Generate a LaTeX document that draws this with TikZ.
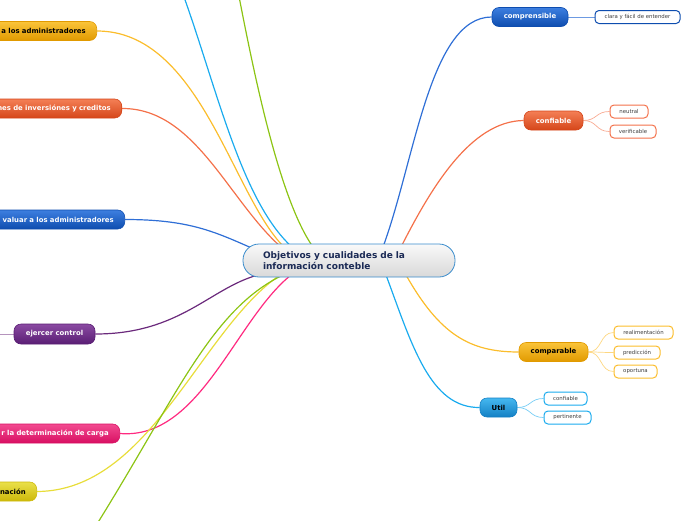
\documentclass[tikz,border=0pt]{standalone}
\usepackage{fontspec}
\setmainfont{DejaVu Sans}
\usetikzlibrary{backgrounds}
\definecolor{cenB}{HTML}{3A8CCC}
\definecolor{cenT}{HTML}{1B2A55}
\definecolor{bluT}{HTML}{3D7FE0}\definecolor{bluB}{HTML}{0E4DAF}\definecolor{bluL}{HTML}{2F6FD6}
\definecolor{oraT}{HTML}{F47F55}\definecolor{oraB}{HTML}{D5461A}\definecolor{oraL}{HTML}{F4714A}
\definecolor{golT}{HTML}{FAC43A}\definecolor{golB}{HTML}{E19A00}\definecolor{golL}{HTML}{FBBD2C}
\definecolor{cyaT}{HTML}{45B8F0}\definecolor{cyaB}{HTML}{1480C4}\definecolor{cyaL}{HTML}{1AABEE}
\definecolor{purT}{HTML}{8A4AA2}\definecolor{purB}{HTML}{5A1E74}\definecolor{purL}{HTML}{6B2A7C}
\definecolor{pinT}{HTML}{F24A90}\definecolor{pinB}{HTML}{D80F62}\definecolor{pinL}{HTML}{FF2A80}
\definecolor{yelT}{HTML}{EAE04A}\definecolor{yelB}{HTML}{CDB90A}\definecolor{yelL}{HTML}{E8DD3A}
\definecolor{grnL}{HTML}{8CC414}
\tikzset{
  mainbox/.style={rounded corners=7pt, minimum height=19pt, inner xsep=6pt, inner ysep=0pt,
    font=\bfseries\fontsize{6.9}{8}\selectfont, line width=0.6pt},
  leftbox/.style={mainbox, anchor=east, text width=200pt, align=right, inner xsep=11pt},
  subbox/.style={draw, fill=white, rounded corners=4pt, line width=1pt, minimum height=13pt,
    inner xsep=5pt, inner ysep=0pt, font=\fontsize{5.4}{6}\selectfont, text=black!75},
  branch/.style={line width=1.2pt},
  twig/.style={line width=0.7pt}
}
\begin{document}
\begin{tikzpicture}[x=1pt,y=-1pt]
\useasboundingbox (0,0) rectangle (696,520);
\clip (0,0) rectangle (696,520);
% attachment coordinates on the central node
\coordinate (aY) at (284,247);
\coordinate (aO) at (281,247);
\coordinate (aB) at (292,247);
\coordinate (aG) at (313,247);
\coordinate (aL) at (254,249);
\coordinate (aP) at (258,275);
\coordinate (aYb) at (280,275);
\coordinate (aGb) at (283,275);
\coordinate (aK) at (291,275);
\coordinate (aR1) at (383,247);
\coordinate (aR2) at (401,247);
\coordinate (aR3) at (386,275);
\coordinate (aR4) at (406,275);
\coordinate (offB) at (180,-14);
\coordinate (offG) at (237,-14);
\coordinate (offGb) at (92,532);
\coordinate (offP) at (-10,334);

% central node
\node[draw=cenB, line width=0.8pt, top color=white!95!gray, bottom color=gray!30, rounded corners=16pt,
      minimum height=33pt, text width=172pt, inner xsep=20pt, inner ysep=0pt, align=left,
      font=\bfseries\fontsize{9}{11}\selectfont, text=cenT] (cen) at (349,260.5)
  {Objetivos y cualidades de la\\información conteble};

% right main nodes
\node[mainbox, draw=bluB, top color=bluT, bottom color=bluB, text=white, minimum width=76pt] (comp) at (530,17) {comprensible};
\node[mainbox, draw=oraB, top color=oraT, bottom color=oraB, text=white, minimum width=59pt] (conf) at (553.5,120.5) {confiable};
\node[mainbox, draw=golB, top color=golT, bottom color=golB, text=black, minimum width=69pt] (cmpb) at (553.5,352) {comparable};
\node[mainbox, draw=cyaB, top color=cyaT, bottom color=cyaB, text=black, minimum width=37pt] (util) at (498.5,407.5) {Util};

% sub nodes
\node[subbox, draw=bluB, minimum width=85pt] (clara) at (637.5,17) {clara y fácil de entender};
\node[subbox, draw=oraL, minimum width=38pt] (neu) at (629,111.5) {neutral};
\node[subbox, draw=oraL, minimum width=46pt] (ver) at (633,131.5) {verificable};
\node[subbox, draw=golL, minimum width=59pt] (rea) at (643.5,332.5) {realimentación};
\node[subbox, draw=golL, minimum width=46pt] (pre) at (637,352.5) {predicción};
\node[subbox, draw=golL, minimum width=43pt] (opo) at (635.5,371.5) {oportuna};
\node[subbox, draw=cyaL, minimum width=43pt] (uconf) at (565.5,398.5) {confiable};
\node[subbox, draw=cyaL, minimum width=47pt] (pert) at (567.5,417.5) {pertinente};

% left main nodes
\node[leftbox, draw=golB, top color=golT, bottom color=golB, text=black] (l1) at (97,31) {a los administradores};
\node[leftbox, draw=oraB, top color=oraT, bottom color=oraB, text=white] (l2) at (122,108.5) {nes de inversiónes y creditos};
\node[leftbox, draw=bluB, top color=bluT, bottom color=bluB, text=white] (l3) at (125,219.5) {valuar a los administradores};
\node[mainbox, draw=purB, top color=purT, bottom color=purB, text=white, minimum width=81pt, minimum height=20pt] (l4) at (54.5,334) {ejercer control};
\node[leftbox, draw=pinB, top color=pinT, bottom color=pinB, text=white] (l5) at (120,433.5) {r la determinación de carga};
\node[leftbox, draw=yelB, top color=yelT, bottom color=yelB, text=black] (l6) at (37,491.5) {nación};

% connectors (behind nodes)
\begin{pgfonlayer}{background}
% right side
\draw[branch, bluL] (aR1) .. controls (415,160) and (430,17) .. (comp.west);
\draw[branch, oraL] (aR2) .. controls (430,190) and (470,121) .. (conf.west);
\draw[branch, golL] (aR4) .. controls (440,335) and (470,352) .. (cmpb.west);
\draw[branch, cyaL] (aR3) .. controls (412,345) and (430,408) .. (util.west);
\draw[twig, bluL!70] (comp.east) -- (clara.west);
\draw[twig, oraL!60] (conf.east) .. controls +(14,0) and +(-14,0) .. (neu.west);
\draw[twig, oraL!60] (conf.east) .. controls +(14,0) and +(-14,0) .. (ver.west);
\draw[twig, golL!60] (cmpb.east) .. controls +(14,0) and +(-14,0) .. (rea.west);
\draw[twig, golL!60] (cmpb.east) .. controls +(14,0) and +(-14,0) .. (pre.west);
\draw[twig, golL!60] (cmpb.east) .. controls +(14,0) and +(-14,0) .. (opo.west);
\draw[twig, cyaL!60] (util.east) .. controls +(14,0) and +(-14,0) .. (uconf.west);
\draw[twig, cyaL!60] (util.east) .. controls +(14,0) and +(-14,0) .. (pert.west);
% left side
\draw[branch, golL] (l1.east) .. controls (200,31) and (232,195) .. (aY);
\draw[branch, oraL] (l2.east) .. controls (195,108) and (228,200) .. (aO);
\draw[branch, bluL] (l3.east) .. controls (190,219.5) and (215,232) .. (aL);
\draw[branch, purL] (l4.east) .. controls (180,334) and (210,288) .. (aP);
\draw[twig, purL!50] (offP) -- (l4.west);
\draw[branch, pinL] (l5.east) .. controls (200,440) and (235,320) .. (aK);
\draw[branch, yelL] (l6.east) .. controls (150,491) and (200,330) .. (aYb);
% lines from off-canvas nodes
\draw[branch, cyaL] (offB) .. controls (215,80) and (240,200) .. (aB);
\draw[branch, grnL] (offG) .. controls (255,80) and (280,200) .. (aG);
\draw[branch, grnL] (offGb) .. controls (175,400) and (210,310) .. (aGb);
\end{pgfonlayer}
\end{tikzpicture}
\end{document}
